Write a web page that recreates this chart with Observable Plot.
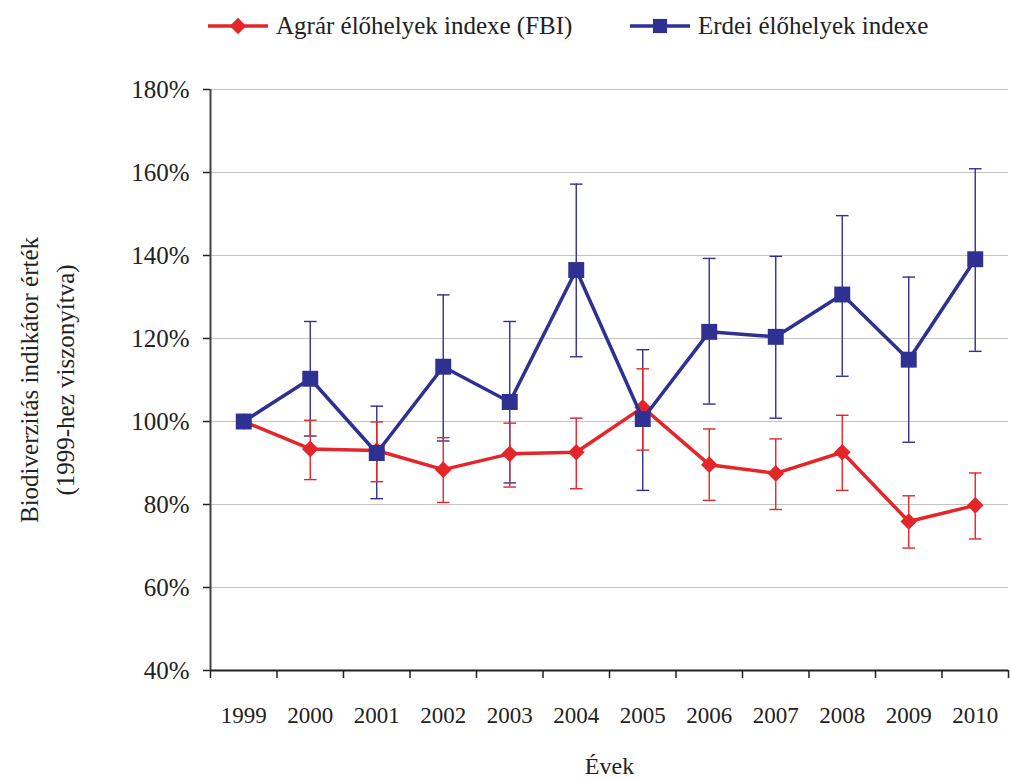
<!DOCTYPE html>
<html>
<head>
<meta charset="utf-8">
<script src="https://cdn.jsdelivr.net/npm/d3@7"></script>
<script src="https://cdn.jsdelivr.net/npm/@observablehq/plot@0.6"></script>
<style>
  html, body { margin: 0; padding: 0; background: #fff; }
  body { width: 1011px; height: 779px; overflow: hidden; font-family: "Liberation Serif", "DejaVu Serif", serif; }
  #legend { height: 55px; position: relative; font-size: 25px; color: #222; }
  .item { position: absolute; top: 12px; display: flex; align-items: center; }
  .item svg { margin-right: 6px; }
</style>
</head>
<body>
<div id="legend"></div>
<div id="chart"></div>
<script>
const years = [1999, 2000, 2001, 2002, 2003, 2004, 2005, 2006, 2007, 2008, 2009, 2010];
const fbiValues = [100, 93.4, 93.0, 88.4, 92.2, 92.6, 103.4, 89.6, 87.5, 92.6, 75.9, 79.8];
const fbiLow    = [99, 86.0, 85.5, 80.5, 84.2, 83.8, 93.1, 81.0, 78.8, 83.4, 69.5, 71.7];
const fbiHigh   = [101, 100.3, 99.9, 96.1, 99.6, 100.8, 112.7, 98.2, 95.8, 101.5, 82.1, 87.6];
const forestValues = [100, 110.3, 92.4, 113.2, 104.7, 136.5, 100.6, 121.6, 120.4, 130.6, 114.9, 139.1];
const forestLow    = [100, 96.5, 81.4, 95.3, 85.2, 115.6, 83.4, 104.2, 100.8, 110.9, 95.0, 116.9];
const forestHigh   = [100, 124.1, 103.7, 130.5, 124.1, 157.2, 117.3, 139.3, 139.8, 149.6, 134.8, 160.9];
const yTicks = [40, 60, 80, 100, 120, 140, 160, 180];
const seriesNames = ["Agrár élőhelyek indexe (FBI)", "Erdei élőhelyek indexe"];
const xTitle = "Évek";
const yTitle = "Biodiverzitás indikátor érték\n(1999-hez viszonyítva)";

const RED = "#e4262b";
const BLUE = "#2e3192";
const capHalf = 0.095;

const fbi = years.map((year, i) => ({year, value: fbiValues[i], low: fbiLow[i], high: fbiHigh[i]}));
const forest = years.map((year, i) => ({year, value: forestValues[i], low: forestLow[i], high: forestHigh[i]}));
const boundaries = years.concat([years[years.length - 1] + 1]).map(y => y - 0.5);

// legend
const legend = document.getElementById("legend");
function legendItem(left, color, symbol, text) {
  const div = document.createElement("div");
  div.className = "item";
  div.style.left = left + "px";
  const s = d3.create("svg").attr("width", 64).attr("height", 20);
  s.append("line").attr("x1", 2).attr("x2", 62).attr("y1", 10).attr("y2", 10).attr("stroke", color).attr("stroke-width", 3.5);
  s.append("path").attr("transform", "translate(32,10)").attr("fill", color)
    .attr("d", d3.symbol(symbol, symbol === d3.symbolSquare ? 200 : 170)());
  div.appendChild(s.node());
  const span = document.createElement("span");
  span.textContent = text;
  div.appendChild(span);
  legend.appendChild(div);
}
legendItem(206, RED, d3.symbolDiamond2, seriesNames[0]);
legendItem(628, BLUE, d3.symbolSquare, seriesNames[1]);

const chart = Plot.plot({
  width: 1011,
  height: 724,
  marginTop: 34,
  marginBottom: 109,
  marginLeft: 210,
  marginRight: 3,
  style: {fontFamily: "Liberation Serif, serif", fontSize: "22px", color: "#222", background: "#fff"},
  x: {type: "linear", domain: [1998.5, 2010.5]},
  y: {domain: [40, 180]},
  marks: [
    Plot.ruleY(yTicks.filter(d => d > 40), {stroke: "#c4c4c4", strokeWidth: 1.2}),
    Plot.axisX(boundaries, {tickSize: 8, tickFormat: () => "", stroke: "#222", strokeWidth: 1.5, label: null}),
    Plot.axisX(years, {tickSize: 0, tickPadding: 36, tickFormat: d => String(d), fontSize: 23, label: null}),
    Plot.axisY(yTicks, {tickSize: 7, tickPadding: 14, tickFormat: d => d + "%", stroke: "#222", strokeWidth: 1.5, fontSize: 25, label: null}),
    Plot.ruleY([40], {stroke: "#222", strokeWidth: 2}),
    Plot.ruleX([1998.5], {stroke: "#444", strokeWidth: 2}),
    // forest error bars
    Plot.ruleX(forest, {x: "year", y1: "low", y2: "high", stroke: BLUE, strokeWidth: 1.4}),
    Plot.link(forest, {x1: d => d.year - capHalf, x2: d => d.year + capHalf, y1: "high", y2: "high", stroke: BLUE, strokeWidth: 1.4}),
    Plot.link(forest, {x1: d => d.year - capHalf, x2: d => d.year + capHalf, y1: "low", y2: "low", stroke: BLUE, strokeWidth: 1.4}),
    // fbi error bars
    Plot.ruleX(fbi, {x: "year", y1: "low", y2: "high", stroke: RED, strokeWidth: 1.4}),
    Plot.link(fbi, {x1: d => d.year - capHalf, x2: d => d.year + capHalf, y1: "high", y2: "high", stroke: RED, strokeWidth: 1.4}),
    Plot.link(fbi, {x1: d => d.year - capHalf, x2: d => d.year + capHalf, y1: "low", y2: "low", stroke: RED, strokeWidth: 1.4}),
    // lines
    Plot.line(fbi, {x: "year", y: "value", stroke: RED, strokeWidth: 3.5}),
    Plot.dot(fbi, {x: "year", y: "value", symbol: "diamond2", r: 7.5, fill: RED, stroke: "none"}),
    Plot.line(forest, {x: "year", y: "value", stroke: BLUE, strokeWidth: 3.5}),
    Plot.dot(forest, {x: "year", y: "value", symbol: "square", r: 9, fill: BLUE, stroke: "none"}),
    // titles
    Plot.text([xTitle], {frameAnchor: "bottom", dy: 103, fontSize: 24, fill: "#222"}),
    Plot.text([yTitle], {frameAnchor: "left", textAnchor: "middle", rotate: -90, dx: -166, fontSize: 25, lineHeight: 1.45, fill: "#222"})
  ]
});
document.getElementById("chart").appendChild(chart);
</script>
</body>
</html>
